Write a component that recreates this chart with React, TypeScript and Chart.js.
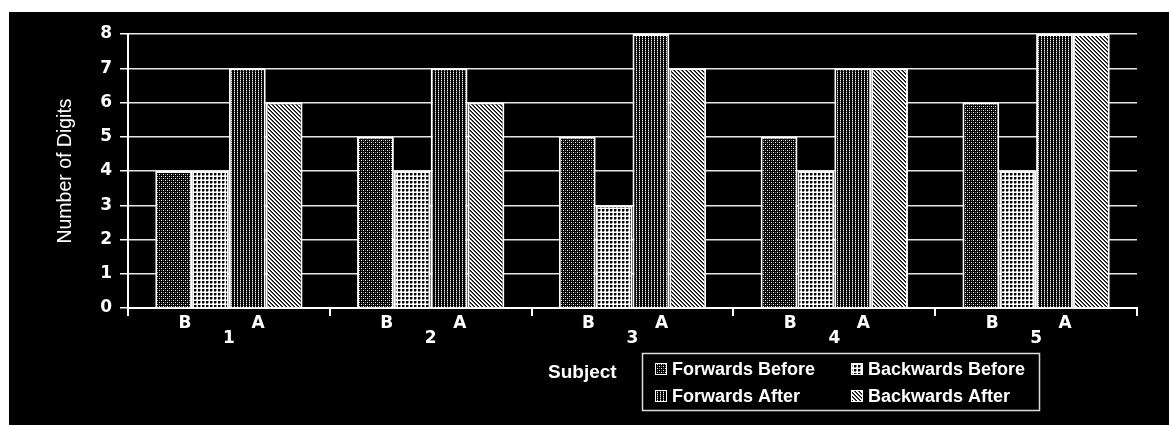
import React, { useEffect, useRef } from "react";
import { Chart, registerables } from "chart.js";

Chart.register(...registerables);

const subjects = ["1", "2", "3", "4", "5"];
const phaseLabels = ["B", "A"];
const seriesNames = ["Forwards Before", "Backwards Before", "Forwards After", "Backwards After"];
const forwardsBefore = [4, 5, 5, 5, 6];
const backwardsBefore = [4, 4, 3, 4, 4];
const forwardsAfter = [7, 7, 8, 7, 8];
const backwardsAfter = [6, 6, 7, 7, 8];
const yMin = 0;
const yMax = 8;
const yStep = 1;
const xTitle = "Subject";
const yTitle = "Number of Digits";

const LEGEND_FONT = "bold 18px 'Liberation Sans', Arial, sans-serif";
const SUBJECT_FONT = "bold 19px 'Liberation Sans', Arial, sans-serif";
const TICK_FONT = { family: "'DejaVu Sans', sans-serif", size: 17, weight: "bold" as const };

type Px = [number, number, string];
type Tile = { w: number; h: number; bg: string; px: Px[] };

function tileFor(kind: number): Tile {
  if (kind === 0) {
    return {
      w: 4, h: 4, bg: "#000",
      px: [[0, 0, "#fff"], [2, 2, "#fff"], [2, 0, "#777"], [0, 2, "#777"]],
    };
  }
  if (kind === 1) {
    return {
      w: 4, h: 4, bg: "#fff",
      px: [
        [1, 1, "#000"], [2, 1, "#000"], [1, 2, "#000"], [2, 2, "#000"],
        [3, 1, "#888"], [3, 2, "#888"], [1, 3, "#888"], [2, 3, "#888"],
      ],
    };
  }
  if (kind === 2) {
    return {
      w: 3, h: 2, bg: "#000",
      px: [[0, 0, "#eee"], [0, 1, "#666"]],
    };
  }
  const px: Px[] = [];
  for (let i = 0; i < 4; i++) {
    px.push([i, i, "#fff"]);
    px.push([(i + 1) % 4, i, "#fff"]);
    px.push([(i + 2) % 4, i, "#555"]);
  }
  return { w: 4, h: 4, bg: "#000", px };
}

function makePattern(ctx: CanvasRenderingContext2D, kind: number): CanvasPattern | string {
  const t = tileFor(kind);
  const c = document.createElement("canvas");
  c.width = t.w;
  c.height = t.h;
  const tc = c.getContext("2d")!;
  tc.fillStyle = t.bg;
  tc.fillRect(0, 0, t.w, t.h);
  for (const [x, y, col] of t.px) {
    tc.fillStyle = col;
    tc.fillRect(x, y, 1, 1);
  }
  return ctx.createPattern(c, "repeat") || "#888";
}

const decorPlugin = {
  id: "decor",
  afterDraw(chart: any) {
    const { ctx } = chart;
    const x = chart.scales.x;
    const n = subjects.length;
    const w = (x.right - x.left) / n;
    ctx.save();
    ctx.fillStyle = "#fff";
    ctx.font = "bold 17px 'DejaVu Sans', sans-serif";
    ctx.textAlign = "center";
    ctx.textBaseline = "middle";
    for (let i = 0; i < n; i++) {
      const cx = x.getPixelForValue(i);
      ctx.fillText(phaseLabels[0], cx - 0.218 * w, x.top + 15.5);
      ctx.fillText(phaseLabels[1], cx + 0.144 * w, x.top + 15.5);
    }

    // x-axis title
    ctx.textAlign = "left";
    ctx.font = SUBJECT_FONT;
    ctx.fillText(xTitle, 539, 361);

    // legend box
    ctx.strokeStyle = "#ddd";
    ctx.lineWidth = 1.5;
    ctx.strokeRect(633.5, 341.5, 397, 57);

    ctx.font = LEGEND_FONT;
    const cols = [646, 842];
    const rows = [357, 384];
    chart.data.datasets.forEach((ds: any, i: number) => {
      const col = cols[i % 2];
      const row = rows[Math.floor(i / 2)];
      ctx.fillStyle = ds.backgroundColor;
      ctx.fillRect(col, row - 6, 12, 12);
      ctx.strokeStyle = "#fff";
      ctx.lineWidth = 1;
      ctx.strokeRect(col + 0.5, row - 5.5, 11, 11);
      ctx.fillStyle = "#fff";
      ctx.textAlign = "left";
      ctx.fillText(ds.label, col + 17, row + 1);
    });
    ctx.restore();
  },
};

export default function App() {
  const ref = useRef<HTMLCanvasElement>(null);
  useEffect(() => {
    const canvas = ref.current!;
    const ctx = canvas.getContext("2d")!;
    const pats = [0, 1, 2, 3].map((k) => makePattern(ctx, k));
    const values = [forwardsBefore, backwardsBefore, forwardsAfter, backwardsAfter];
    const chart = new Chart(canvas, {
      type: "bar",
      data: {
        labels: subjects,
        datasets: seriesNames.map((name, i) => ({
          label: name,
          data: values[i],
          backgroundColor: pats[i] as any,
          borderColor: "#fff",
          borderWidth: 2,
          categoryPercentage: 0.73,
          barPercentage: 1.0,
        })),
      },
      options: {
        responsive: true,
        maintainAspectRatio: false,
        animation: false,
        layout: { padding: { left: 0, right: 32, top: 22, bottom: 0 } },
        plugins: { legend: { display: false }, tooltip: { enabled: false } },
        scales: {
          x: {
            grid: {
              offset: true,
              drawOnChartArea: true,
              color: (c: any) =>
                c.index === 0 || c.index === subjects.length ? "#fff" : "rgba(0,0,0,0)",
              tickColor: "#fff",
              tickLength: 8,
              lineWidth: 2,
            },
            border: { color: "#fff", width: 2 },
            ticks: {
              color: "#fff",
              font: TICK_FONT,
              padding: 12,
              maxRotation: 0,
              autoSkip: false,
            },
            afterFit: (s: any) => {
              s.height = 117;
            },
          },
          y: {
            min: yMin,
            max: yMax,
            ticks: { stepSize: yStep, color: "#fff", font: TICK_FONT, padding: 8 },
            grid: { color: "#e6e6e6", lineWidth: 1.5, tickColor: "#fff", tickLength: 8 },
            border: { color: "#fff", width: 2 },
            title: {
              display: true,
              text: yTitle,
              color: "#fff",
              font: { family: "'Liberation Sans', Arial, sans-serif", size: 19.5, weight: "normal" },
              padding: { top: 45, bottom: 0 },
            },
            afterFit: (s: any) => {
              s.width = 119;
            },
          },
        },
      },
      plugins: [decorPlugin],
    });
    return () => chart.destroy();
  }, []);
  return (
    <div
      style={{
        position: "absolute",
        left: 9,
        top: 12,
        width: 1160,
        height: 413,
        background: "#000",
      }}
    >
      <canvas ref={ref} />
    </div>
  );
}
